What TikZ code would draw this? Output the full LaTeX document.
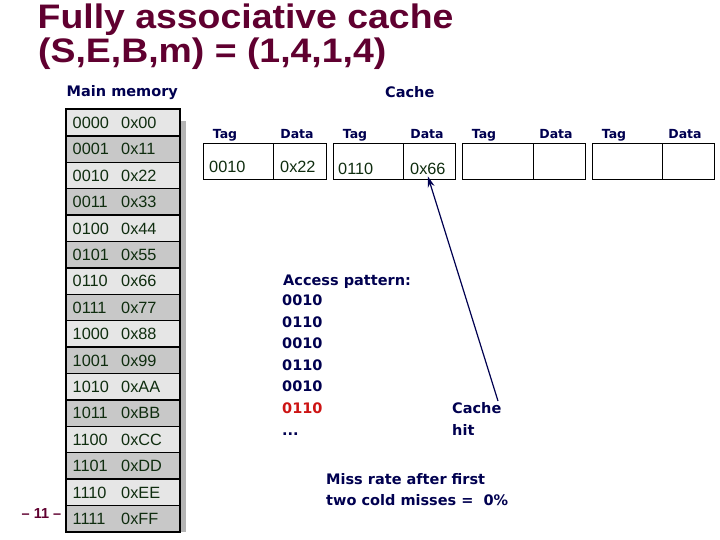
\documentclass[tikz,border=0pt]{standalone}
\usepackage{fontspec}
\usepackage{graphicx}
\setmainfont{Liberation Sans}
\newfontfamily\tah{DejaVu Sans}
\usetikzlibrary{arrows.meta}
\definecolor{maroon}{RGB}{96,0,48}
\definecolor{navy}{RGB}{0,0,80}
\definecolor{mgreen}{RGB}{15,45,15}
\definecolor{lrow}{RGB}{230,230,230}
\definecolor{drow}{RGB}{200,200,200}
\definecolor{shad}{RGB}{180,180,180}
\definecolor{hitred}{RGB}{205,20,20}
\begin{document}
\begin{tikzpicture}[x=1pt,y=-1pt,
  title/.style={anchor=base west, inner sep=0, text=maroon, font=\fontsize{34}{34}\selectfont\bfseries},
  lbl/.style={anchor=base west, inner sep=0, text=navy, font=\tah\bfseries\fontsize{14.5}{14.5}\selectfont},
  hdr/.style={anchor=base, inner sep=0, text=navy, font=\tah\bfseries\fontsize{12.5}{12.5}\selectfont},
  memtxt/.style={anchor=base west, inner sep=0, text=mgreen, font=\fontsize{16.3}{16.3}\selectfont},
  cbox/.style={draw=black, line width=0.9pt},
  pagenum/.style={anchor=base west, inner sep=0, text=maroon, font=\fontsize{14.5}{14.5}\selectfont\bfseries}
]
\useasboundingbox[fill=white] (0,0) rectangle (720,540);

% title
\node[title] (t1) at (37.5,28.5) {\scalebox{1.1}[1]{Fully associative cache}};
\node[title] (t2) at (38,63) {\scalebox{1.1}[1]{(S,E,B,m) = (1,4,1,4)}};

\node[lbl] (mmlbl) at (66.5,97) {Main memory};
\node[lbl] (cachelbl) at (385,98) {Cache};

% memory table shadow
\fill[shad] (180,121) rectangle (186,531.9);
% memory rows
\foreach \a/\v [count=\i from 0] in {0000/0x00,0001/0x11,0010/0x22,0011/0x33,0100/0x44,0101/0x55,0110/0x66,0111/0x77,1000/0x88,1001/0x99,1010/0xAA,1011/0xBB,1100/0xCC,1101/0xDD,1110/0xEE,1111/0xFF}{
  \pgfmathsetmacro\yt{109.5+26.4*\i}
  \pgfmathsetmacro\yb{109.5+26.4*(\i+1)}
  \pgfmathsetmacro\ybase{109.5+26.4*\i+13.2+5.7}
  \ifodd\i
    \fill[drow] (65.5,\yt) rectangle (180,\yb);
  \else
    \fill[lrow] (65.5,\yt) rectangle (180,\yb);
  \fi
  \ifnum\i>0
    \draw[line width=1.5pt] (65.5,\yt) -- (180,\yt);
  \fi
  \node[memtxt] (ma\i) at (72.5,\ybase) {\a};
  \node[memtxt] (mv\i) at (121,\ybase) {\v};
}
\draw[line width=2pt] (65.5,109.5) rectangle (180,531.9);

% cache lines
\foreach \k/\xa/\xb/\xc/\tx/\dx in {1/203/273/326/225/297, 2/333/403/455/355/427, 3/462/533/585/484/556, 4/592/662/714/614/685}{
  \draw[cbox] (\xa,143.5) rectangle (\xc,179.5);
  \draw[cbox] (\xb,143.5) -- (\xb,179.5);
  \node[hdr] (tagh\k) at (\tx,139) {Tag};
  \node[hdr] (datah\k) at (\dx,139) {Data};
}
\node[memtxt] (c1) at (209,173) {0010};
\node[memtxt] (v1) at (280,173) {0x22};
\node[memtxt] (c2) at (338,175) {0110};
\node[memtxt] (v2) at (410,175) {0x66};

% access pattern
\node[lbl] (ap) at (283,285) {Access pattern:};
\node[lbl] (ap1) at (282,305) {0010};
\node[lbl] (ap2) at (282,327) {0110};
\node[lbl] (ap3) at (282,348) {0010};
\node[lbl] (ap4) at (282,370) {0110};
\node[lbl] (ap5) at (282,391.5) {0010};
\node[lbl,text=hitred] (ap6) at (282,413) {0110};
\node[lbl] (ap7) at (282,435) {...};

\node[lbl] (hit1) at (452,413) {Cache};
\node[lbl] (hit2) at (452,435) {hit};

\coordinate (hitend) at (498,401);
\draw[navy, line width=1.2pt, -{Stealth[length=11pt,width=7pt]}] (hitend) -- ([yshift=-1pt]v2.south);

\node[lbl] (miss1) at (326,484) {Miss rate after first};
\node[lbl] (miss2) at (326,505) {two cold misses =\ \ 0\%};

\node[pagenum] (pg) at (21.5,518) {– 11 –};
\end{tikzpicture}
\end{document}
